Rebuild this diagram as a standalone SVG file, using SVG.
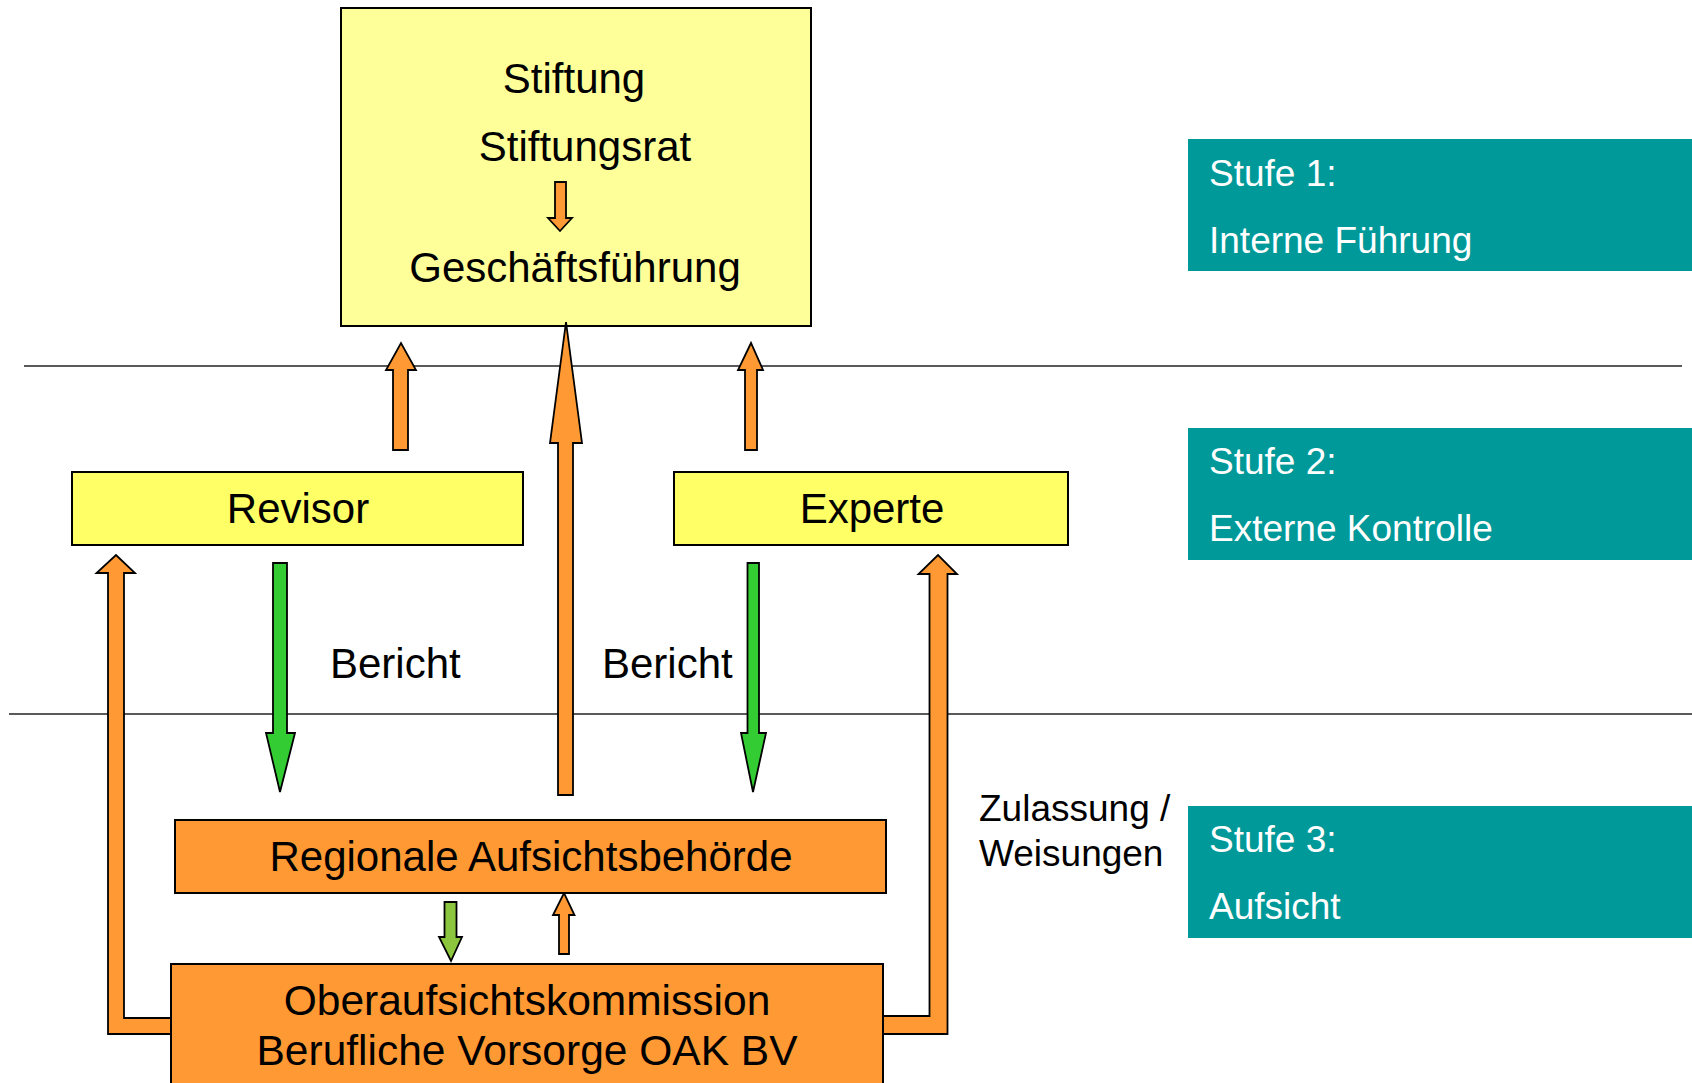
<svg xmlns="http://www.w3.org/2000/svg" width="1692" height="1083" viewBox="0 0 1692 1083">
<style>
text{font-family:"Liberation Sans",Arial,sans-serif;fill:#000}
.t42{font-size:42px}
.c{text-anchor:middle}
.w{fill:#fff;font-size:37px}
.box{stroke:#000;stroke-width:2}
.or{fill:#FF9933;stroke:#000;stroke-width:1.8;stroke-linejoin:miter}
.gr{fill:#33CC33;stroke:#000;stroke-width:1.8}
.lg{fill:#8CC63F;stroke:#000;stroke-width:1.8}
.ln{stroke:#222;stroke-width:1.6;fill:none}
</style>
<rect width="1692" height="1083" fill="#fff"/>
<g id="levels">
<line class="ln" x1="24" y1="366" x2="1682" y2="366"/>
<line class="ln" x1="9" y1="714" x2="1692" y2="714"/>
</g>
<g id="stufe1"><rect x="1188" y="139" width="504" height="132" fill="#009999"/><text class="w" x="1209" y="186">Stufe 1:</text><text class="w" x="1209" y="253">Interne Führung</text></g>
<g id="stufe2"><rect x="1188" y="428" width="504" height="132" fill="#009999"/><text class="w" x="1209" y="474">Stufe 2:</text><text class="w" x="1209" y="541">Externe Kontrolle</text></g>
<g id="stufe3"><rect x="1188" y="806" width="504" height="132" fill="#009999"/><text class="w" x="1209" y="852">Stufe 3:</text><text class="w" x="1209" y="919">Aufsicht</text></g>
<g id="stiftung">
<rect class="box" x="341" y="8" width="470" height="318" fill="#FFFF99"/>
<text class="t42 c" x="574" y="93">Stiftung</text>
<text class="t42 c" x="585" y="161">Stiftungsrat</text>
<path class="or" d="M555,182 H566 V218 H572 L560,231 L548,218 H555 Z"/>
<text class="t42 c" x="575" y="282">Geschäftsführung</text>
</g>
<g id="revisor"><rect class="box" x="72" y="472" width="451" height="73" fill="#FFFF66"/><text class="t42 c" x="298" y="523">Revisor</text></g>
<g id="experte"><rect class="box" x="674" y="472" width="394" height="73" fill="#FFFF66"/><text class="t42 c" x="872" y="523">Experte</text></g>
<g id="connectors">
<path class="or" d="M393,450 V370 H386 L401,343 L416,370 H408 V450 Z"/>
<path class="or" d="M745,450 V370 H738 L751,343 L763,370 H757 V450 Z"/>
<path class="or" d="M558,795 V443 H550 L566,322 L582,443 H573 V795 Z"/>
<path class="gr" d="M273,563 H287 V733 H295 L280,792 L266,733 H273 Z"/>
<path class="gr" d="M747.5,563 H759 V733 H766 L753,792 L741,733 H747.5 Z"/>
<path class="or" d="M180,1018 H124 V573 H135 L116,555 L96.5,573 H108 V1034 H180 Z"/>
<path class="or" d="M870,1016 H929.5 V574 H918.5 L938,555 L957,574 H947.5 V1034 H870 Z"/>
<path class="lg" d="M444.5,902 H456.5 V937 H462 L451,961 L439,937 H444.5 Z"/>
<path class="or" d="M559,954 V915 H553 L564,893 L574.5,915 H569 V954 Z"/>
</g>
<text class="t42" x="330" y="678">Bericht</text>
<text class="t42" x="602" y="678">Bericht</text>
<text x="979" y="821" font-size="37">Zulassung /</text>
<text x="979" y="866" font-size="37">Weisungen</text>
<g id="regional"><rect class="box" x="175" y="820" width="711" height="73" fill="#FF9933"/><text class="c" font-size="42" x="531" y="871">Regionale Aufsichtsbehörde</text></g>
<g id="oak"><rect class="box" x="171" y="964" width="712" height="130" fill="#FF9933"/><text class="c" font-size="42.5" x="527" y="1015">Oberaufsichtskommission</text><text class="c" font-size="42.5" x="527" y="1065">Berufliche Vorsorge OAK BV</text></g>
</svg>
